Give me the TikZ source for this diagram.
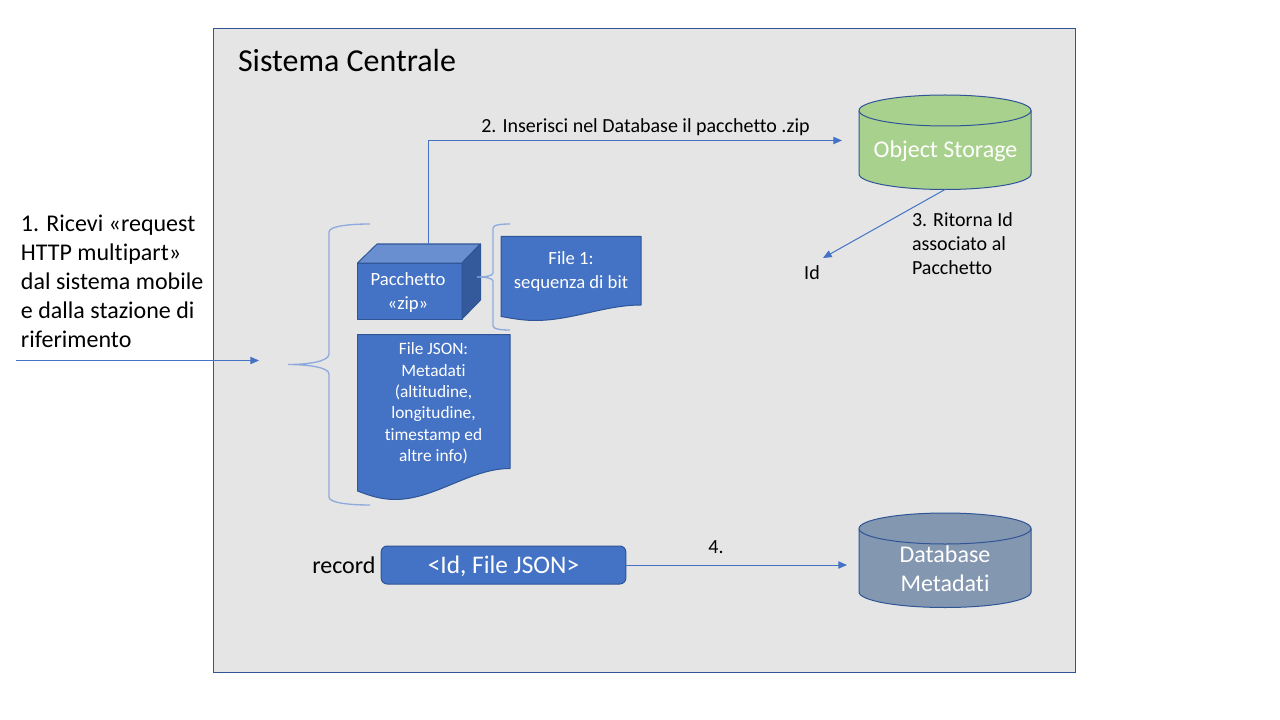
\documentclass[tikz,border=0pt]{standalone}
\usepackage{fontspec}
\setmainfont[Ligatures=NoCommon]{Carlito}
\usetikzlibrary{arrows.meta,calc}
\definecolor{frameblue}{HTML}{2F5597}
\definecolor{accent}{HTML}{4472C4}
\definecolor{bracecol}{HTML}{8FAADC}
\definecolor{panel}{HTML}{E5E5E5}
\definecolor{greencyl}{HTML}{A9D18E}
\definecolor{greycyl}{HTML}{8497B0}
\definecolor{cubetop}{HTML}{6A8FD0}
\definecolor{cubeside}{HTML}{345A9B}
\newcommand{\fs}[2]{\fontsize{#1}{#2}\selectfont}
\tikzset{
  x=0.75pt,y=-0.75pt,
  blk/.style={inner sep=0pt,outer sep=0pt,align=center,text=black},
  wht/.style={inner sep=0pt,outer sep=0pt,align=center,text=white},
  shp/.style={draw=frameblue,line width=0.75pt,line join=round},
  conn/.style={draw=accent,line width=0.75pt,-{Triangle[length=6.5pt,width=5.5pt]}},
  brc/.style={draw=bracecol,line width=1pt},
}
\begin{document}
\begin{tikzpicture}
\useasboundingbox (0,0) rectangle (1280,720);
% panel
\fill[white] (0,0) rectangle (1280,720);
\draw[fill=panel,draw=frameblue,line width=0.75pt] (213.5,28.5) rectangle (1075.5,672);
\node[blk,anchor=west,font=\fs{24}{29}] (title) at (238,60.5) {Sistema Centrale};

% cylinder: object storage
\draw[shp,fill=greencyl] (859,110.5) -- (859,174) arc[start angle=180,end angle=360,x radius=86,y radius=-15.5] -- (1031,110.5) arc[start angle=0,end angle=180,x radius=86,y radius=-15.5] -- cycle;
\draw[shp] (859,110.5) arc[start angle=180,end angle=360,x radius=86,y radius=-15.5];
\node[wht,font=\fs{18}{22}] (store) at (945.5,151.5) {Object Storage};
\coordinate (storeS) at (945,189.5);
\coordinate (storeW) at (842,140.5);

% cylinder: database metadati
\draw[shp,fill=greycyl] (859,528.5) -- (859,592) arc[start angle=180,end angle=360,x radius=86,y radius=-15.5] -- (1031,528.5) arc[start angle=0,end angle=180,x radius=86,y radius=-15.5] -- cycle;
\draw[shp] (859,528.5) arc[start angle=180,end angle=360,x radius=86,y radius=-15.5];
\node[wht,font=\fs{18}{22}] (db) at (945,568.5) {Database\\Metadati};
\coordinate (dbW) at (847,565);

% cube
\draw[shp,fill=accent] (357.5,263) rectangle (462,319);
\draw[shp,fill=cubetop] (357.5,263) -- (377,244) -- (480.5,244) -- (462,263) -- cycle;
\draw[shp,fill=cubeside] (462,263) -- (480.5,244) -- (480.5,300) -- (462,319) -- cycle;
\node[wht,font=\fs{14}{18}] (cube) at (408,292.5) {Pacchetto\\«zip»};
\coordinate (cubeT) at (428,244);

% file 1
\draw[shp,fill=accent] (501,236.5) -- (641,236.5) -- (641,305) .. controls (605,305) and (572,320.5) .. (535,320.5) .. controls (522,320.5) and (510,318) .. (501,316.5) -- cycle;
\node[wht,font=\fs{14}{18}] (file1) at (571,272) {File 1:\\sequenza di bit};

% file json
\draw[shp,fill=accent] (357.5,334.5) -- (510,334.5) -- (510,468.5) .. controls (470,468.5) and (435,499.5) .. (395,499.5) .. controls (380,499.5) and (368,495) .. (357.5,491) -- cycle;
\node[wht,font=\fs{13}{16}] (json) at (433.5,403.5) {File JSON:\\Metadati\\(altitudine,\\longitudine,\\timestamp ed\\altre info)};

% braces
\draw[brc] (370,224) .. controls (350,224) and (329,226) .. (329,232) -- (329,354) .. controls (329,362) and (306,364.5) .. (288,364.5) .. controls (306,364.5) and (329,367) .. (329,374) -- (329,497) .. controls (329,503) and (350,505) .. (370,505);
\draw[brc] (510,224) .. controls (503,224) and (493,224.5) .. (493,228) -- (493,273) .. controls (493,276) and (485,277) .. (477,277) .. controls (485,277) and (493,278) .. (493,281) -- (493,326) .. controls (493,329.5) and (503,330) .. (510,330);

% record
\node[draw=frameblue,line width=0.75pt,fill=accent,rounded corners=4.5pt,minimum width=183.5pt,minimum height=28.5pt,inner sep=0pt,text=white,font=\fs{19}{23},text depth=0pt] (rec) at (503.5,565) {<Id, File JSON>};
\node[blk,anchor=east,font=\fs{18}{22}] (reclabel) at (375.5,565.5) {record};

% labels
\node[blk,anchor=north west,align=left,font=\fs{18}{21.75}] (step1) at (21,215) {1. Ricevi «request\\HTTP multipart»\\dal sistema mobile\\e dalla stazione di\\riferimento};
\coordinate (inA) at (16,360.5);
\coordinate (inB) at (259,360.5);
\node[blk,font=\fs{15}{18}] (step2) at (645.5,127) {2. Inserisci nel Database il pacchetto .zip};
\node[blk,anchor=north west,align=left,font=\fs{15}{18}] (step3) at (912,213) {3. Ritorna Id\\associato al\\Pacchetto};
\node[blk,font=\fs{15}{18}] (idl) at (812,273) {Id};
\node[blk,font=\fs{15}{18}] (step4) at (716,547) {4.};
\coordinate (idT) at (823,258);

% connectors
\draw[conn] (inA) -- (inB);
\draw[conn] (cubeT) |- (storeW);
\draw[conn] (storeS) -- (idT);
\draw[conn] (rec.east) -- (dbW);
\end{tikzpicture}
\end{document}
